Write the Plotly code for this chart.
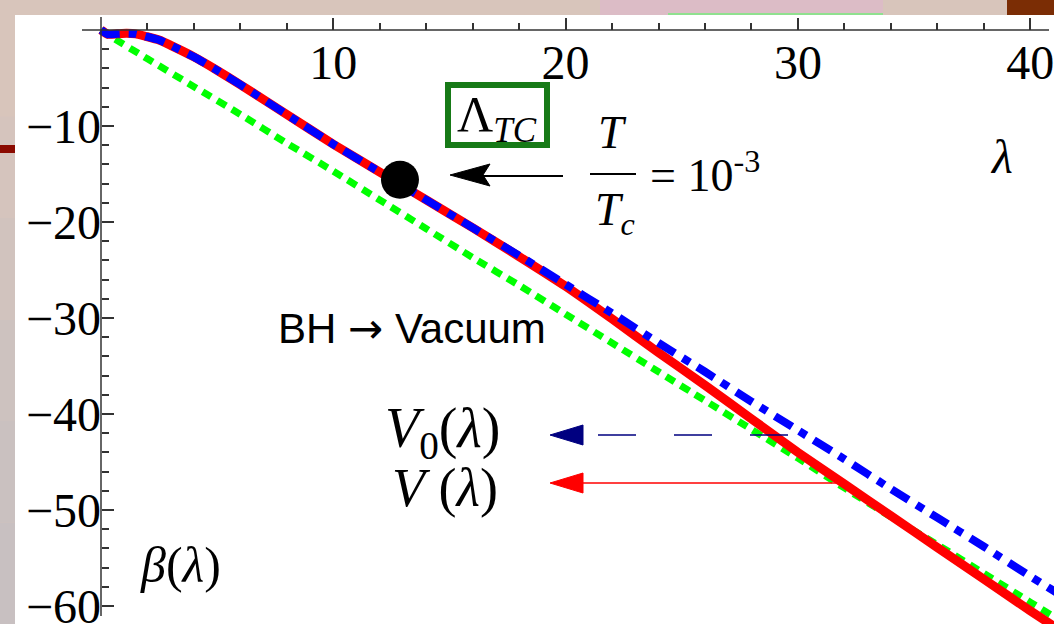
import plotly.graph_objects as go

# ---------------- data ----------------
lam_V = [0, 0.3, 0.7, 1.1, 1.5, 1.9, 2.5, 3, 4, 5, 6, 8, 10, 12, 14, 16, 18, 20, 22, 24, 26, 28, 30, 32, 34, 36, 38, 40, 41.2]
beta_V = [0, -0.45, -0.4, -0.35, -0.4, -0.65, -1.05, -1.6, -2.8, -4.2, -5.7, -8.8, -11.9, -14.8, -17.7, -20.6, -23.6,
          -26.7, -30.1, -33.6, -37.0, -40.5, -44.0, -47.3, -50.6, -53.9, -57.2, -60.5, -62.4]
lam_V0 = [0, 0.3, 0.7, 1.1, 1.5, 1.9, 2.5, 3, 4, 5, 6, 8, 10, 12, 14, 16, 18, 20, 22, 24, 26, 28, 30, 32, 34, 36, 38, 40, 41.2]
beta_V0 = [0, -0.45, -0.4, -0.35, -0.4, -0.65, -1.05, -1.6, -2.8, -4.2, -5.7, -8.8, -11.9, -14.8, -17.7, -20.6, -23.5,
           -26.5, -29.5, -32.6, -35.6, -38.7, -41.7, -44.7, -47.8, -50.8, -53.8, -56.9, -58.7]
lam_vac = [0, 0.5, 2, 4, 6, 8, 10, 12, 14, 16, 18, 20, 22, 24, 26, 28, 30, 32, 34, 36, 38, 40, 41.2]
beta_vac = [0, -0.8, -3.0, -5.9, -8.8, -11.8, -14.7, -17.7, -20.7, -23.7, -26.6, -29.6, -32.6, -35.6,
            -38.6, -41.6, -44.6, -47.7, -50.7, -53.6, -56.6, -59.6, -61.4]
lam_TC = [12.87]
beta_TC = [-15.6]

x_tickvals = [10, 20, 30, 40]
x_ticktext = ["10", "20", "30", "40"]
x_minor = [2, 4, 6, 8, 12, 14, 16, 18, 22, 24, 26, 28, 32, 34, 36, 38]
y_tickvals = [-10, -20, -30, -40, -50, -60]
y_ticktext = ["\u221210", "\u221220", "\u221230", "\u221240", "\u221250", "\u221260"]
y_minor = [v for v in range(-2, -60, -2) if v % 10 != 0]

# ---------------- geometry ----------------
W, H = 1054, 624
ML, MT = 15, 15
PW, PH = W - ML, H - MT
X0, X1 = -3.702, -3.702 + PW / 23.23
Y1 = 1.5625
Y0 = Y1 - PH / 9.6


def px_x(p):
    return X0 + (p - ML) / PW * (X1 - X0)


def px_y(p):
    return Y1 - (p - MT) / PH * (Y1 - Y0)


SERIF = "Liberation Serif, Times New Roman, serif"
SANS = "Liberation Sans, Arial, sans-serif"

fig = go.Figure()
fig.add_trace(go.Scatter(x=lam_vac, y=beta_vac, mode="lines", line=dict(color="#00ff00", width=7, dash="10px,7px", shape="spline", smoothing=0.6), hoverinfo="skip"))
fig.add_trace(go.Scatter(x=lam_V, y=beta_V, mode="lines", line=dict(color="#ff0000", width=9, shape="spline", smoothing=0.5), hoverinfo="skip"))
fig.add_trace(go.Scatter(x=lam_V0, y=beta_V0, mode="lines", line=dict(color="#0000ff", width=8, dash="20px,9px,8px,9px", shape="spline", smoothing=0.5), hoverinfo="skip"))
fig.add_trace(go.Scatter(x=lam_TC, y=beta_TC, mode="markers", marker=dict(color="black", size=38), hoverinfo="skip"))

shapes = []
# slide background pieces
bands = ["#d8c5bb", "#d5c4bd", "#d1c3be", "#cdc2bf", "#cac1c0", "#c8c0c1"]
for i, c in enumerate(bands):
    shapes.append(dict(type="rect", xref="paper", yref="paper", x0=-ML / PW, x1=0,
                       y0=1 - (i + 1) / len(bands), y1=1 - i / len(bands) + (0.05 if i == 0 else 0),
                       fillcolor=c, line=dict(width=0), layer="below"))
shapes.append(dict(type="rect", xref="paper", yref="paper", x0=(600 - ML) / PW, x1=(883 - ML) / PW,
                   y0=1, y1=1 + MT / PH, fillcolor="#dcbcc6", line=dict(width=0), layer="below"))
shapes.append(dict(type="rect", xref="paper", yref="paper", x0=(668 - ML) / PW, x1=(883 - ML) / PW,
                   y0=1, y1=1 + 2 / PH, fillcolor="#8fe08f", line=dict(width=0), layer="below"))
shapes.append(dict(type="rect", xref="paper", yref="paper", x0=(1007 - ML) / PW, x1=1.01,
                   y0=1, y1=1 + MT / PH, fillcolor="#7b2d05", line=dict(width=0), layer="below"))
shapes.append(dict(type="rect", xref="paper", yref="paper", x0=-ML / PW, x1=0,
                   y0=1 - (145 - MT) / PH, y1=1 - (153 - MT) / PH, fillcolor="#8b0a00", line=dict(width=0)))
# axis lines
shapes.append(dict(type="line", xref="x", yref="y", x0=px_x(82), x1=px_x(1049), y0=0, y1=0,
                   line=dict(color="#333333", width=1.5)))
shapes.append(dict(type="line", xref="x", yref="y", x0=0, x1=0, y0=px_y(17), y1=px_y(616),
                   line=dict(color="#333333", width=1.5)))
# Lambda_TC box
shapes.append(dict(type="rect", xref="x", yref="y", x0=px_x(448), x1=px_x(547), y0=px_y(85), y1=px_y(145),
                   line=dict(color="#177a17", width=6)))
# fraction bar
shapes.append(dict(type="line", xref="x", yref="y", x0=px_x(590), x1=px_x(636), y0=px_y(174), y1=px_y(174),
                   line=dict(color="black", width=2)))
# black arrow to the dot
shapes.append(dict(type="line", xref="x", yref="y", x0=px_x(483), x1=px_x(563), y0=px_y(176), y1=px_y(176),
                   line=dict(color="black", width=2)))
shapes.append(dict(type="path", xref="x", yref="y", xsizemode="pixel", ysizemode="pixel",
                   xanchor=px_x(450), yanchor=px_y(175), path="M0,0 L40,-11 L33,0 L40,11 Z",
                   fillcolor="black", line=dict(color="black", width=1)))
# V0 arrow (dashed navy)
shapes.append(dict(type="line", xref="x", yref="y", x0=px_x(598), x1=px_x(790), y0=px_y(435), y1=px_y(435),
                   line=dict(color="#000080", width=1.5, dash="38px,38px")))
shapes.append(dict(type="path", xref="x", yref="y", xsizemode="pixel", ysizemode="pixel",
                   xanchor=px_x(550), yanchor=px_y(435), path="M0,0 L33,-10 L33,10 Z",
                   fillcolor="#000080", line=dict(color="#000080", width=1)))
# V arrow (solid red)
shapes.append(dict(type="line", xref="x", yref="y", x0=px_x(583), x1=px_x(838), y0=px_y(483), y1=px_y(483),
                   line=dict(color="#ff0000", width=1.5)))
shapes.append(dict(type="path", xref="x", yref="y", xsizemode="pixel", ysizemode="pixel",
                   xanchor=px_x(550), yanchor=px_y(483), path="M0,0 L33,-10 L33,10 Z",
                   fillcolor="#ff0000", line=dict(color="#ff0000", width=1)))

annotations = []


def txt(text, cx, cy, size, family=SERIF, xanchor="center"):
    annotations.append(dict(text=text, x=px_x(cx), y=px_y(cy), xref="x", yref="y", showarrow=False,
                            xanchor=xanchor, yanchor="middle", font=dict(family=family, size=size, color="black")))


txt("<i>λ</i>", 1001, 156, 48)
txt("<i>β</i>(<i>λ</i>)", 180, 565, 50)
txt("<i>V</i><sub>0</sub>(<i>λ</i>)", 442, 432, 56)
txt("<i>V</i> (<i>λ</i>)", 445, 488, 54)
txt("BH <span style='font-family:DejaVu Sans'>\u2192</span> Vacuum", 412, 328, 42, SANS)
txt("Λ<sub><i>TC</i></sub>", 497, 118, 50)
txt("<i>T</i>", 612, 132, 46)
txt("<i>T</i><sub><i>c</i></sub>", 615, 213, 46)
txt("= 10<sup>-3</sup>", 648, 172, 46, xanchor="left")

axis_common = dict(showgrid=False, zeroline=False, showline=False, anchor="free", automargin=False,
                   ticklabeloverflow="allow",
                   tickfont=dict(family=SERIF, size=48, color="black"),
                   ticks="inside", ticklen=12, tickwidth=1.5, tickcolor="#333333", tickmode="array")

fig.update_layout(
    width=W, height=H, margin=dict(l=ML, r=0, t=MT, b=0, pad=0, autoexpand=False),
    paper_bgcolor="#d8c5bb", plot_bgcolor="white", showlegend=False,
    xaxis=dict(range=[X0, X1], tickvals=x_tickvals, ticktext=x_ticktext,
               position=(0 - Y0) / (Y1 - Y0), side="bottom",
               minor=dict(tickmode="array", tickvals=x_minor, ticks="inside", ticklen=7, tickwidth=1.5, tickcolor="#333333"),
               **axis_common),
    yaxis=dict(range=[Y0, Y1], tickvals=y_tickvals, ticktext=y_ticktext,
               position=(0 - X0) / (X1 - X0), side="left",
               minor=dict(tickmode="array", tickvals=y_minor, ticks="inside", ticklen=7, tickwidth=1.5, tickcolor="#333333"),
               **axis_common),
    shapes=shapes, annotations=annotations,
)

fig.write_html("out.html", config=dict(displayModeBar=False),
               post_script="document.body.style.margin='0';document.body.style.overflow='hidden';")
